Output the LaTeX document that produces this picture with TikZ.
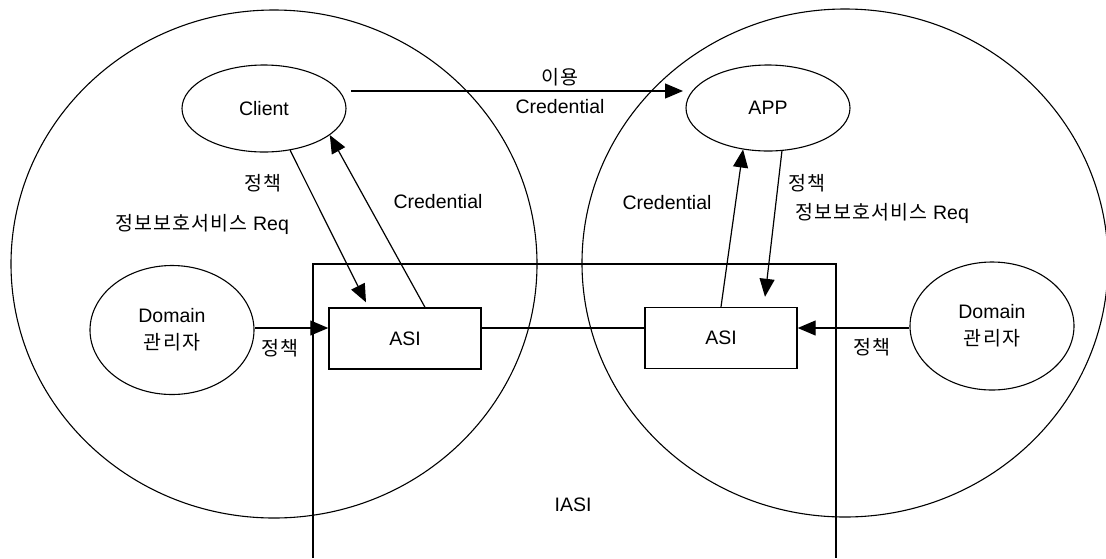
\documentclass[tikz,border=0pt]{standalone}
\usepackage{fontspec}
\setmainfont{Liberation Sans}
\newfontfamily\kr[LetterSpace=6]{Noto Sans CJK KR}
\usetikzlibrary{shapes.geometric,arrows.meta}
\begin{document}
\begin{tikzpicture}[x=1pt,y=-1pt,
  every node/.style={font=\fontsize{19.5}{27}\selectfont},
  bigc/.style={ellipse,draw,line width=1.1pt,minimum width=526pt,minimum height=508pt,inner sep=0pt},
  oval/.style={ellipse,draw,line width=1.1pt,inner sep=0pt,minimum width=164pt,align=center},
  box/.style={rectangle,draw,line width=1.4pt,minimum width=152pt,minimum height=61pt,inner sep=0pt},
  arr/.style={line width=1.2pt,-{Triangle[length=18pt,width=15pt]}},
  ln/.style={line width=1.2pt},
  lbl/.style={inner sep=0pt}]
\useasboundingbox (0,0) rectangle (1106,558);
% big domain circles
\node[bigc] (cirL) at (274,264) {};
\node[bigc] (cirR) at (845,263) {};
% IASI region (open at the bottom)
\coordinate (iaBL) at (313,558);
\coordinate (iaTL) at (313,264);
\coordinate (iaTR) at (836,264);
\coordinate (iaBR) at (836,558);
\draw[line width=1.5pt] (iaBL) -- (iaTL) -- (iaTR) -- (iaBR);
\node[lbl] (iasi) at (573,505) {IASI};
% nodes
\node[oval,minimum height=87pt] (client) at (264,108.5) {Client};
\node[oval,minimum height=86pt] (app) at (768,108) {APP};
\node[oval,minimum height=129pt] (domL) at (172,330) {Domain\\{\kr 관리자}};
\node[oval,minimum height=128pt] (domR) at (992,326) {Domain\\{\kr 관리자}};
\node[box] (asiL) at (405,338.5) {ASI};
\node[box] (asiR) at (721,338) {ASI};
% helper coordinates
\coordinate (lvl) at (0,328);
\coordinate (useA) at (351,91);
\coordinate (useB) at (683,91);
% connectors
\draw[arr] (useA) -- (useB);
\draw[ln] (asiL.east |- lvl) -- (asiR.west |- lvl);
\draw[arr] (domL.east |- lvl) -- (asiL.west |- lvl);
\draw[arr] (domR.west |- lvl) -- (asiR.east |- lvl);
\draw[arr] (client.302) -- ([xshift=-39pt,yshift=5pt]asiL.north);
\draw[arr] ([xshift=20pt]asiL.north) -- (client.338);
\draw[arr] (asiR.north) -- (app.239);
\draw[arr] (app.288) -- ([xshift=44pt,yshift=10pt]asiR.north);
% labels
\node[lbl] (tUse) at (560,77) {\kr 이용};
\node[lbl] (tCredTop) at (560,107) {Credential};
\node[lbl] (tPolL) at (263,183) {\kr 정책};
\node[lbl] (tReqL) at (202,224) {{\kr 정보보호서비스} Req};
\node[lbl] (tCredL) at (438,202) {Credential};
\node[lbl] (tPolR) at (807,183) {\kr 정책};
\node[lbl] (tReqR) at (882,213) {{\kr 정보보호서비스} Req};
\node[lbl] (tCredR) at (667,203) {Credential};
\node[lbl] (tPolDL) at (280,348) {\kr 정책};
\node[lbl] (tPolDR) at (872,347) {\kr 정책};
\end{tikzpicture}
\end{document}
